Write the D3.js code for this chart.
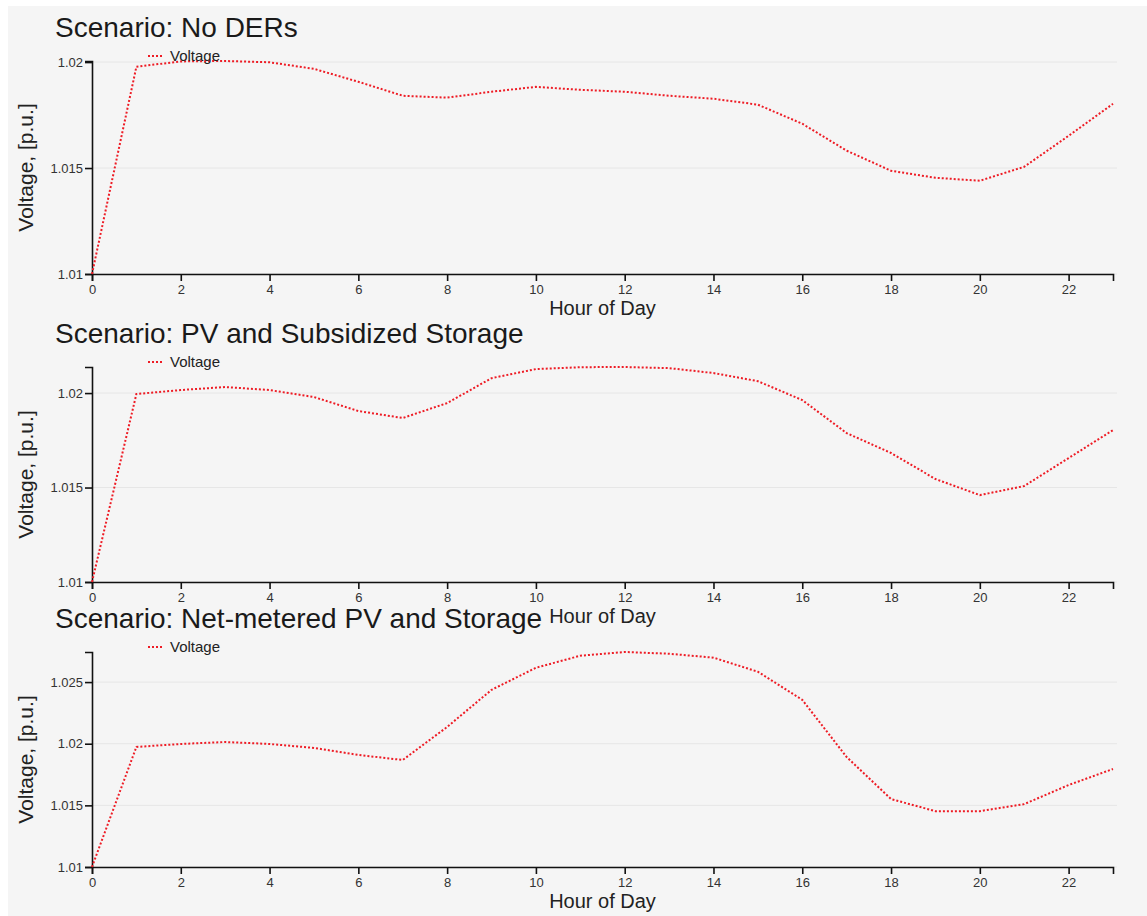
<!DOCTYPE html>
<html>
<head>
<meta charset="utf-8">
<script src="https://cdn.jsdelivr.net/npm/d3@7"></script>
<style>
  html, body { margin: 0; padding: 0; background: #ffffff; }
  svg { display: block; font-family: "Liberation Sans", Arial, sans-serif; }
</style>
</head>
<body>
<svg id="chart" width="1147" height="916"></svg>
<script>
// Hours of the day shown on every panel
const hours = d3.range(0, 24);

// Scenario titles
const scenarios = [
  "Scenario: No DERs",
  "Scenario: PV and Subsidized Storage",
  "Scenario: Net-metered PV and Storage"
];

// Voltage profiles, p.u., one value per hour
const voltageNoDER = [
  1.0100, 1.01978, 1.02003, 1.02005, 1.01999, 1.01968, 1.01907, 1.01841,
  1.01832, 1.01860, 1.01883, 1.01869, 1.01860, 1.01841, 1.01827, 1.01799,
  1.01709, 1.01582, 1.01487, 1.01454, 1.01440, 1.01506, 1.01652, 1.01803
];
const voltagePVSubsidized = [
  1.0100, 1.01995, 1.02016, 1.02032, 1.02016, 1.01979, 1.01905, 1.01868,
  1.01947, 1.02079, 1.02127, 1.02137, 1.02138, 1.02132, 1.02106, 1.02063,
  1.01963, 1.01788, 1.01683, 1.01545, 1.01460, 1.01508, 1.01656, 1.01804
];
const voltageNetMetered = [
  1.0100, 1.01974, 1.01998, 1.02014, 1.01998, 1.01966, 1.01909, 1.01868,
  1.02136, 1.02437, 1.02616, 1.02714, 1.02744, 1.02730, 1.02698, 1.02584,
  1.02356, 1.01892, 1.01551, 1.01453, 1.01453, 1.01510, 1.01665, 1.01795
];
const seriesValues = [voltageNoDER, voltagePVSubsidized, voltageNetMetered];

// Tick values
const xTicks = d3.range(0, 24, 2);
const yTicks = [
  [1.01, 1.015, 1.02],
  [1.01, 1.015, 1.02],
  [1.01, 1.015, 1.02, 1.025]
];

const seriesName = "Voltage";
const xTitle = "Hour of Day";
const yTitle = "Voltage, [p.u.]";

// Panel geometry
const left = 92, right = 1113;
const plotTops = [61, 367, 652];
const plotBottoms = [274, 582, 867];
const lineColor = "#ee1c25";

const svg = d3.select("#chart");

// Page background
svg.append("rect").attr("x", 0).attr("y", 0).attr("width", 1147).attr("height", 916).attr("fill", "#ffffff");
svg.append("rect").attr("x", 8).attr("y", 6).attr("width", 1139).attr("height", 910).attr("fill", "#f5f5f5");

const x = d3.scaleLinear().domain([0, 23]).range([left, right]);

scenarios.forEach((title, i) => {
  const values = seriesValues[i];
  const top = plotTops[i], bottom = plotBottoms[i];
  const y = d3.scaleLinear().domain(d3.extent(values)).range([bottom, top]);
  const g = svg.append("g");

  // horizontal grid lines
  g.append("g").selectAll("line").data(yTicks[i]).join("line")
    .attr("x1", left).attr("x2", right + 4)
    .attr("y1", d => y(d)).attr("y2", d => y(d))
    .attr("stroke", "#e6e6e6").attr("stroke-width", 1);

  // title
  g.append("text").attr("x", 55).attr("y", top - 24)
    .attr("font-size", 28).attr("fill", "#1a1a1a").text(title);

  // x axis
  const xa = g.append("g").attr("transform", `translate(0,${bottom})`)
    .call(d3.axisBottom(x).tickValues(xTicks).tickSize(7).tickSizeOuter(7).tickPadding(4));
  // y axis
  const ya = g.append("g").attr("transform", `translate(${left},0)`)
    .call(d3.axisLeft(y).tickValues(yTicks[i]).tickSize(7).tickSizeOuter(7).tickPadding(2).tickFormat(d3.format("")));
  [xa, ya].forEach(a => {
    a.selectAll("path, line").attr("stroke", "#111").attr("stroke-width", 1.6);
    a.selectAll("text").attr("font-size", 13).attr("fill", "#333")
      .attr("font-family", "\"Liberation Sans\", Arial, sans-serif");
  });

  // axis titles
  g.append("text").attr("x", (left + right) / 2).attr("y", bottom + 41)
    .attr("text-anchor", "middle").attr("font-size", 20).attr("fill", "#222").text(xTitle);
  g.append("text")
    .attr("transform", `translate(33,${(top + bottom) / 2}) rotate(-90)`)
    .attr("text-anchor", "middle").attr("font-size", 21).attr("fill", "#222").text(yTitle);

  // series line
  const line = d3.line().x((d, k) => x(hours[k])).y(d => y(d));
  g.append("path").datum(values).attr("d", line)
    .attr("fill", "none").attr("stroke", lineColor).attr("stroke-width", 2)
    .attr("stroke-dasharray", "2,2");

  // legend
  const ly = top - 5;
  g.append("line").attr("x1", 148).attr("x2", 163).attr("y1", ly).attr("y2", ly)
    .attr("stroke", lineColor).attr("stroke-width", 2).attr("stroke-dasharray", "2,2");
  g.append("text").attr("x", 170).attr("y", ly + 5).attr("font-size", 15)
    .attr("fill", "#222").text(seriesName);
});
</script>
</body>
</html>
